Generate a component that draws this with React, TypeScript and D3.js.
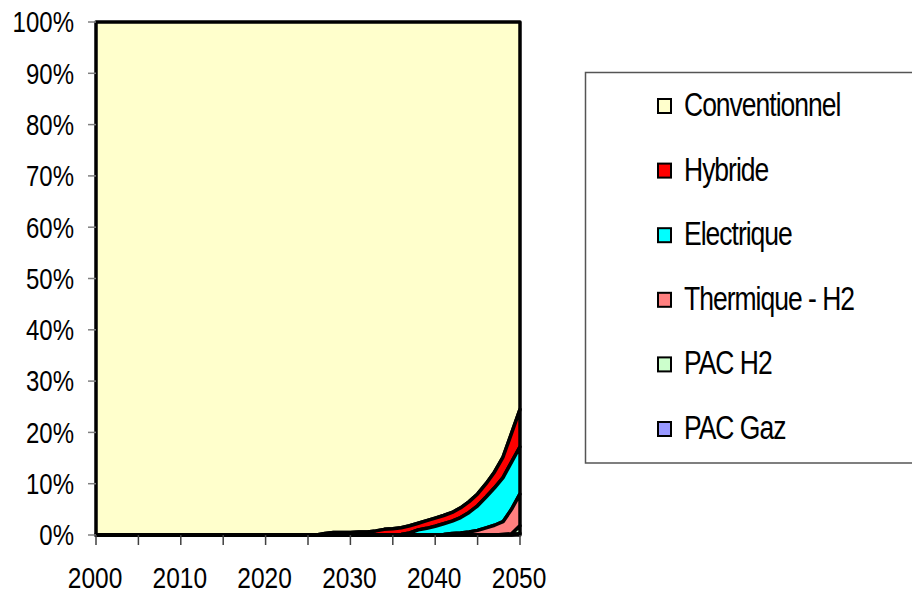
import React from "react";
import * as d3 from "d3";

// Years covered by the projection (one point per year)
const years: number[] = d3.range(2000, 2051);

// Share of the fleet by technology, in %, one value per year 2000..2050
const pacGaz: number[] = [
  0, 0, 0, 0, 0, 0, 0, 0, 0, 0,
  0, 0, 0, 0, 0, 0, 0, 0, 0, 0,
  0, 0, 0, 0, 0, 0, 0, 0, 0, 0,
  0, 0, 0, 0, 0, 0, 0, 0, 0, 0,
  0, 0, 0, 0, 0, 0, 0, 0, 0, 0,
  0.3,
];
const pacH2: number[] = [
  0, 0, 0, 0, 0, 0, 0, 0, 0, 0,
  0, 0, 0, 0, 0, 0, 0, 0, 0, 0,
  0, 0, 0, 0, 0, 0, 0, 0, 0, 0,
  0, 0, 0, 0, 0, 0, 0, 0, 0, 0,
  0, 0, 0, 0, 0, 0, 0, 0, 0.1, 0.2,
  1.5,
];
const thermiqueH2: number[] = [
  0, 0, 0, 0, 0, 0, 0, 0, 0, 0,
  0, 0, 0, 0, 0, 0, 0, 0, 0, 0,
  0, 0, 0, 0, 0, 0, 0, 0, 0, 0,
  0, 0, 0, 0, 0, 0, 0, 0, 0, 0,
  0, 0.1, 0.3, 0.4, 0.6, 0.9, 1.4, 1.9, 2.5, 4.8,
  6.2,
];
const electrique: number[] = [
  0, 0, 0, 0, 0, 0, 0, 0, 0, 0,
  0, 0, 0, 0, 0, 0, 0, 0, 0, 0,
  0, 0, 0, 0, 0, 0, 0, 0, 0, 0,
  0, 0, 0, 0, 0, 0, 0.1, 0.4, 1.0, 1.3,
  1.7, 2.1, 2.4, 3.0, 3.8, 4.8, 6.0, 7.3, 8.6, 9.2,
  9.2,
];
const hybride: number[] = [
  0, 0, 0, 0, 0, 0, 0, 0, 0, 0,
  0, 0, 0, 0, 0, 0, 0, 0, 0, 0,
  0, 0, 0, 0, 0, 0, 0, 0.3, 0.5, 0.5,
  0.5, 0.6, 0.6, 0.8, 1.1, 1.2, 1.3, 1.4, 1.3, 1.5,
  1.6, 1.6, 1.7, 1.9, 2.1, 2.3, 2.6, 3.1, 4.0, 5.6,
  7.3,
];
const conventionnel: number[] = [
  100, 100, 100, 100, 100, 100, 100, 100, 100, 100,
  100, 100, 100, 100, 100, 100, 100, 100, 100, 100,
  100, 100, 100, 100, 100, 100, 100, 99.7, 99.5, 99.5,
  99.5, 99.4, 99.4, 99.2, 98.9, 98.8, 98.6, 98.2, 97.7, 97.2,
  96.7, 96.2, 95.6, 94.7, 93.5, 92.0, 90.0, 87.7, 84.8, 80.2,
  75.5,
];

// Legend order (top to bottom) and stacking order (bottom to top)
const legendKeys: string[] = [
  "Conventionnel",
  "Hybride",
  "Electrique",
  "Thermique - H2",
  "PAC H2",
  "PAC Gaz",
];
const stackKeys: string[] = [
  "PAC Gaz",
  "PAC H2",
  "Thermique - H2",
  "Electrique",
  "Hybride",
  "Conventionnel",
];
const seriesValues: Record<string, number[]> = {
  "PAC Gaz": pacGaz,
  "PAC H2": pacH2,
  "Thermique - H2": thermiqueH2,
  Electrique: electrique,
  Hybride: hybride,
  Conventionnel: conventionnel,
};
const colors: Record<string, string> = {
  Conventionnel: "#FFFFCC",
  Hybride: "#FF0000",
  Electrique: "#00FFFF",
  "Thermique - H2": "#FF8080",
  "PAC H2": "#CCFFCC",
  "PAC Gaz": "#9999FF",
};

const yTicks: number[] = [0, 10, 20, 30, 40, 50, 60, 70, 80, 90, 100];
const xTickYears: number[] = [2000, 2005, 2010, 2015, 2020, 2025, 2030, 2035, 2040, 2045, 2050];
const xLabelYears: number[] = [2000, 2010, 2020, 2030, 2040, 2050];

const W = 912;
const H = 596;
const plot = { left: 96, right: 520, top: 22, bottom: 535 };
const FONT = "'Liberation Sans', Arial, sans-serif";

export default function App() {
  const x = d3.scaleLinear().domain([2000, 2050]).range([plot.left, plot.right]);
  const y = d3.scaleLinear().domain([0, 100]).range([plot.bottom, plot.top]);

  const table = years.map((yr, i) => {
    const row: Record<string, number> = { year: yr };
    stackKeys.forEach((k) => (row[k] = seriesValues[k][i]));
    return row;
  });
  const stacked = d3.stack<Record<string, number>>().keys(stackKeys)(table);

  const area = d3
    .area<d3.SeriesPoint<Record<string, number>>>()
    .x((d) => x(d.data.year))
    .y0((d) => y(d[0]))
    .y1((d) => y(d[1]));

  const legendX = 658;
  const legendY0 = 106;
  const legendStep = 64.6;

  return (
    <svg
      width={W}
      height={H}
      viewBox={`0 0 ${W} ${H}`}
      style={{ position: "absolute", left: 0, top: 0, background: "#fff" }}
      fontFamily={FONT}
    >
      {/* stacked areas, top series first so lower outlines stay visible */}
      {[...stacked].reverse().map((s) => (
        <path
          key={s.key}
          d={area(s) ?? ""}
          fill={colors[s.key]}
          stroke="#000"
          strokeWidth={3.5}
          strokeLinejoin="round"
        />
      ))}

      {/* y axis ticks and labels */}
      {yTicks.map((t) => (
        <g key={t}>
          <line x1={88} x2={plot.left} y1={y(t)} y2={y(t)} stroke="#808080" strokeWidth={1.5} />
          <g transform={`translate(74,${y(t)}) scale(1,1.2)`}>
            <text textAnchor="end" dy="0.36em" fontSize={24} fill="#000">
              {t}%
            </text>
          </g>
        </g>
      ))}

      {/* x axis ticks and labels */}
      {xTickYears.map((t) => (
        <line key={t} x1={x(t)} x2={x(t)} y1={plot.bottom} y2={545} stroke="#404040" strokeWidth={1.5} />
      ))}
      {xLabelYears.map((t) => (
        <g key={t} transform={`translate(${x(t) - 1},578) scale(1,1.18)`}>
          <text textAnchor="middle" dy="0.36em" fontSize={24.5} fill="#000">
            {t}
          </text>
        </g>
      ))}

      {/* legend */}
      <rect x={585.5} y={72.5} width={340} height={390.5} fill="#fff" stroke="#555" strokeWidth={1.5} />
      {legendKeys.map((k, i) => {
        const cy = legendY0 + i * legendStep;
        return (
          <g key={k}>
            <rect x={legendX} y={cy - 7} width={13} height={14} fill={colors[k]} stroke="#000" strokeWidth={2} />
            <g transform={`translate(684,${cy - 2}) scale(1,1.25)`}>
              <text dy="0.36em" fontSize={26.5} letterSpacing={-1} fill="#000">
                {k}
              </text>
            </g>
          </g>
        );
      })}
    </svg>
  );
}
